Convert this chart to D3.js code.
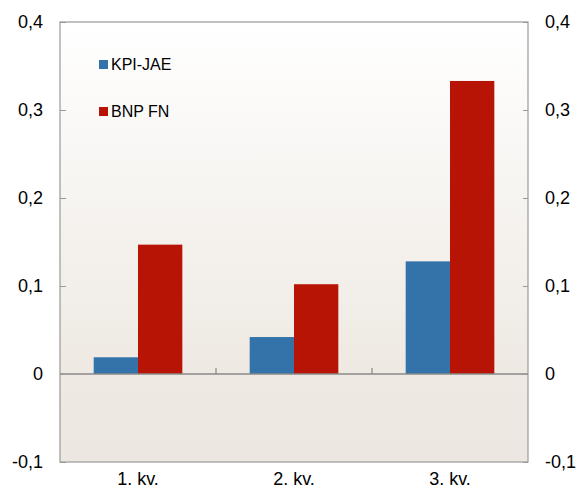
<!DOCTYPE html>
<html><head><meta charset="utf-8">
<script src="https://cdn.jsdelivr.net/npm/d3@7"></script>
<style>body{margin:0;background:#fff}svg{display:block;font-family:"Liberation Sans",Arial,sans-serif}</style>
</head><body>
<script>
const categories = ["1. kv.", "2. kv.", "3. kv."];
const seriesNames = ["KPI-JAE", "BNP FN"];
const kpiJae = [0.019, 0.042, 0.128];
const bnpFn = [0.147, 0.102, 0.333];
const yTicks = [-0.1, 0, 0.1, 0.2, 0.3, 0.4];
const colors = ["#3373aa", "#b81405"];

const W = 579, H = 494;
const m = {left: 60, right: 51, top: 22, bottom: 32};
const iw = W - m.left - m.right, ih = H - m.top - m.bottom;

const svg = d3.select("body").append("svg").attr("width", W).attr("height", H);
const defs = svg.append("defs");
const grad = defs.append("linearGradient").attr("id", "bg").attr("x1", 0).attr("y1", 0).attr("x2", 0).attr("y2", 1);
grad.append("stop").attr("offset", "0%").attr("stop-color", "#ffffff");
grad.append("stop").attr("offset", "80%").attr("stop-color", "#eee9e2");
grad.append("stop").attr("offset", "100%").attr("stop-color", "#ece8e1");

const y = d3.scaleLinear().domain([-0.1, 0.4]).range([m.top + ih, m.top]);
const x0 = d3.scaleBand().domain(categories).range([m.left, m.left + iw]).paddingInner(0).paddingOuter(0);
const x1 = d3.scaleBand().domain(seriesNames).range([0, x0.bandwidth()]).paddingOuter(0.76).paddingInner(0);

const g = svg.append("g");
g.append("rect").attr("x", m.left).attr("y", m.top).attr("width", iw).attr("height", ih).attr("fill", "url(#bg)");

const data = categories.map((c, i) => ({c, vals: [kpiJae[i], bnpFn[i]]}));
const grp = g.selectAll(".grp").data(data).enter().append("g").attr("transform", d => `translate(${x0(d.c)},0)`);
grp.selectAll("rect").data(d => d.vals.map((v, j) => ({v, s: seriesNames[j], j})))
  .enter().append("rect")
  .attr("x", d => x1(d.s)).attr("width", x1.bandwidth())
  .attr("y", d => y(Math.max(0, d.v))).attr("height", d => Math.abs(y(d.v) - y(0)))
  .attr("fill", d => colors[d.j]);

// frame
g.append("rect").attr("x", m.left).attr("y", m.top).attr("width", iw).attr("height", ih)
  .attr("fill", "none").attr("stroke", "#999").attr("stroke-width", 1.2);
// zero line
g.append("line").attr("x1", m.left).attr("x2", m.left + iw).attr("y1", y(0)).attr("y2", y(0))
  .attr("stroke", "#888").attr("stroke-width", 1.3);
// category separator ticks
g.selectAll(".sep").data(categories.slice(1)).enter().append("line")
  .attr("x1", d => x0(d)).attr("x2", d => x0(d)).attr("y1", y(0)).attr("y2", y(0) - 6)
  .attr("stroke", "#888").attr("stroke-width", 1.2);

// axes
const fmt = d => { if (d === 0) return "0"; return (d < 0 ? "-" : "") + Math.abs(d).toFixed(1).replace(".", ","); };
const yl = d3.axisLeft(y).tickValues(yTicks).tickSize(-6).tickPadding(17).tickFormat(fmt);
const yr = d3.axisRight(y).tickValues(yTicks).tickSize(-5).tickPadding(17).tickFormat(fmt);
const gl = svg.append("g").attr("transform", `translate(${m.left},0)`).call(yl);
const gr = svg.append("g").attr("transform", `translate(${m.left + iw},0)`).call(yr);
[gl, gr].forEach(a => {
  a.select(".domain").remove();
  a.selectAll("line").attr("stroke", "#999");
  a.selectAll("text").attr("font-size", 18).attr("fill", "#000").attr("font-family", "Liberation Sans, Arial, sans-serif");
});

const xa = d3.axisBottom(x0).tickSize(0).tickPadding(10);
const gx = svg.append("g").attr("transform", `translate(0,${m.top + ih})`).call(xa);
gx.select(".domain").remove();
gx.selectAll("text").attr("font-size", 18).attr("fill", "#000").attr("font-family", "Liberation Sans, Arial, sans-serif");

// legend
const leg = svg.append("g");
const legY = [64.5, 111.5];
seriesNames.forEach((s, i) => {
  leg.append("rect").attr("x", 99).attr("y", legY[i] - 4.5).attr("width", 9).attr("height", 9).attr("fill", colors[i]);
  leg.append("text").attr("x", 111).attr("y", legY[i]).attr("dy", "0.35em").attr("font-size", 16)
    .attr("fill", "#000").text(s);
});
</script>
</body></html>
